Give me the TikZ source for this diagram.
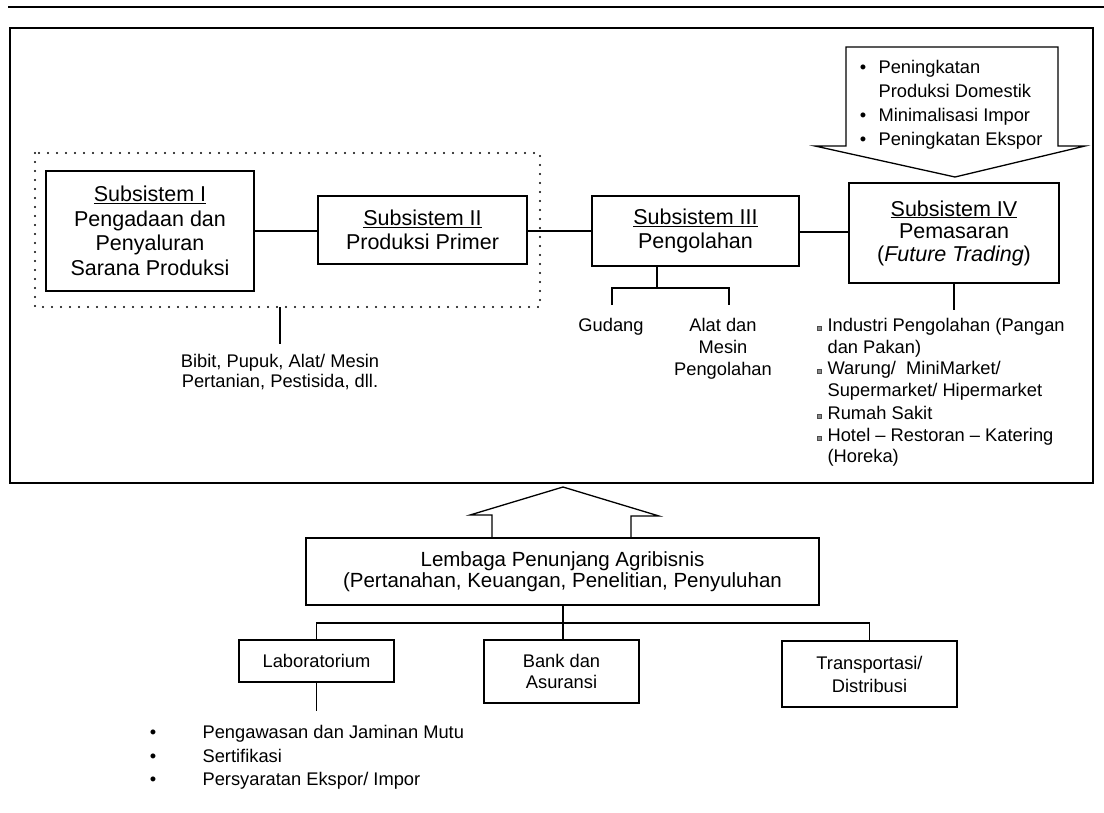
\documentclass[tikz,border=0pt]{standalone}
\usepackage{fontspec}
\setmainfont{Liberation Sans}
\begin{document}
\begin{tikzpicture}[x=1pt,y=-1pt,
  line width=1.2pt,
  box/.style={draw, line width=1.3pt, inner sep=0pt, align=center},
  sub/.style={font=\fontsize{21.5}{24.5}\selectfont},
  lst/.style={font=\fontsize{18.3}{22}\selectfont},
  ln/.style={lst, anchor=west, inner sep=0pt, text height=0.72em, text depth=0pt},
  lnc/.style={lst, anchor=center, inner sep=0pt, text height=0.72em, text depth=0pt},
  sqb/.style={draw=black!70, fill=black!45, line width=0.5pt, minimum size=4.5pt, inner sep=0pt},
  dotbox/.style={line width=2.4pt, dash pattern=on 0pt off 9pt, line cap=round},
]
\useasboundingbox (0,0) rectangle (1104,812);

% top rule and outer frame
\coordinate (r1) at (8,7); \coordinate (r2) at (1104,7);
\draw[line width=1.8pt] (r1) -- (r2);
\coordinate (o1) at (10,28); \coordinate (o2) at (1093,483);
\draw[line width=1.3pt] (o1) rectangle (o2);

% dotted group
\coordinate (d1) at (35,153); \coordinate (d2) at (540,307);
\draw[dotbox] (d1) rectangle (d2);

% subsystem boxes
\node[box, sub, minimum width=208pt, minimum height=120pt] (s1) at (150,231)
  {\underline{Subsistem I}\\Pengadaan dan\\Penyaluran\\Sarana Produksi};
\node[box, sub, minimum width=209pt, minimum height=68pt] (s2) at (422.5,230)
  {\underline{Subsistem II}\\Produksi Primer};
\node[box, sub, minimum width=207pt, minimum height=70pt] (s3) at (695.5,231)
  {\underline{Subsistem III}\\Pengolahan};
\node[box, sub, font=\fontsize{21.5}{22.5}\selectfont, minimum width=210pt, minimum height=100pt] (s4) at (954,233)
  {\underline{Subsistem IV}\\Pemasaran\\(\textit{Future Trading})};

\draw (s1.east |- 0,231) -- (s2.west |- 0,231);
\draw (s2.east |- 0,231) -- (s3.west |- 0,231);
\draw (s3.east |- 0,232) -- (s4.west |- 0,232);

% downward block arrow (top right)
\coordinate (a1) at (846,47); \coordinate (a2) at (1058,47);
\coordinate (a3) at (1058,146); \coordinate (a4) at (1085,146);
\coordinate (a5) at (955,177); \coordinate (a6) at (815,146);
\coordinate (a7) at (846,146);
\draw[line width=1.3pt, line join=miter] (a1) -- (a2) -- (a3) -- (a4) -- (a5) -- (a6) -- (a7) -- cycle;
\node[lnc] (ab1) at (863,70) {\textbullet};
\node[lnc] (ab2) at (863,118) {\textbullet};
\node[lnc] (ab3) at (863,142) {\textbullet};
\node[ln] (at1) at (878,70) {Peningkatan};
\node[ln] (at2) at (878,94) {Produksi Domestik};
\node[ln] (at3) at (878,118) {Minimalisasi Impor};
\node[ln] (at4) at (878,142) {Peningkatan Ekspor};

% inputs below dotted group
\coordinate (b1) at (280,307); \coordinate (b2) at (280,344);
\draw (b1) -- (b2);
\node[lnc] (bi1) at (280,364) {Bibit, Pupuk, Alat/ Mesin};
\node[lnc] (bi2) at (280,384) {Pertanian, Pestisida, dll.};

% Subsistem III branches
\coordinate (t3) at (657,288);
\coordinate (g1) at (612,288); \coordinate (g2) at (729,288);
\coordinate (g1e) at (612,305); \coordinate (g2e) at (729,305);
\draw (s3.south -| t3) -- (t3);
\draw (g1e) -- (g1) -- (g2) -- (g2e);
\node[lnc] (gud) at (611,328) {Gudang};
\node[lnc] (al1) at (723,328) {Alat dan};
\node[lnc] (al2) at (723,350) {Mesin};
\node[lnc] (al3) at (723,372) {Pengolahan};

% Subsistem IV market list
\coordinate (t4) at (954,310);
\draw (s4.south) -- (t4);
\node[sqb] (q1) at (819,328) {};
\node[sqb] (q2) at (819,371) {};
\node[sqb] (q3) at (819,416) {};
\node[sqb] (q4) at (819,438) {};
\node[ln] (m1) at (827,328) {Industri Pengolahan (Pangan};
\node[ln] (m2) at (827,349.5) {dan Pakan)};
\node[ln] (m3) at (827,371) {Warung/\ \ MiniMarket/};
\node[ln] (m4) at (827,393) {Supermarket/ Hipermarket};
\node[ln] (m5) at (827,416) {Rumah Sakit};
\node[ln] (m6) at (827,438) {Hotel -- Restoran -- Katering};
\node[ln] (m7) at (827,459) {(Horeka)};

% upward block arrow
\coordinate (u1) at (492,538); \coordinate (u2) at (492,515);
\coordinate (u3) at (470,515); \coordinate (u4) at (563,487);
\coordinate (u5) at (659,516); \coordinate (u6) at (631,516);
\coordinate (u7) at (631,538);
\draw[line width=1.3pt, line join=miter] (u1) -- (u2) -- (u3) -- (u4) -- (u5) -- (u6) -- (u7);

% supporting institutions
\node[box, font=\fontsize{20.5}{20.5}\selectfont, minimum width=513pt, minimum height=67pt] (lem) at (562.5,571.5)
  {Lembaga Penunjang Agribisnis\\(Pertanahan, Keuangan, Penelitian, Penyuluhan};
\node[box, lst, minimum width=155pt, minimum height=42pt] (lab) at (316.5,661) {Laboratorium};
\node[box, lst, font=\fontsize{18.3}{21}\selectfont, minimum width=155pt, minimum height=63pt] (bank) at (561.5,671.5) {Bank dan\\Asuransi};
\node[box, lst, font=\fontsize{18.3}{23}\selectfont, minimum width=175pt, minimum height=66pt] (tra) at (869.5,674) {Transportasi/\\Distribusi};

\coordinate (k0) at (563,623);
\coordinate (k1) at (316.5,623); \coordinate (k3) at (869.5,623);
\draw (lem.south -| k0) -- (k0);
\draw (lab.north) -- (k1) -- (k3) -- (tra.north);
\draw (k0) -- (bank.north -| k0);

% laboratory services
\coordinate (l1) at (316.5,711);
\draw (lab.south) -- (l1);
\node[lnc] (lb1) at (153,735) {\textbullet};
\node[lnc] (lb2) at (153,758.5) {\textbullet};
\node[lnc] (lb3) at (153,782) {\textbullet};
\node[ln] (lt1) at (202,735) {Pengawasan dan Jaminan Mutu};
\node[ln] (lt2) at (202,758.5) {Sertifikasi};
\node[ln] (lt3) at (202,782) {Persyaratan Ekspor/ Impor};
\end{tikzpicture}
\end{document}
